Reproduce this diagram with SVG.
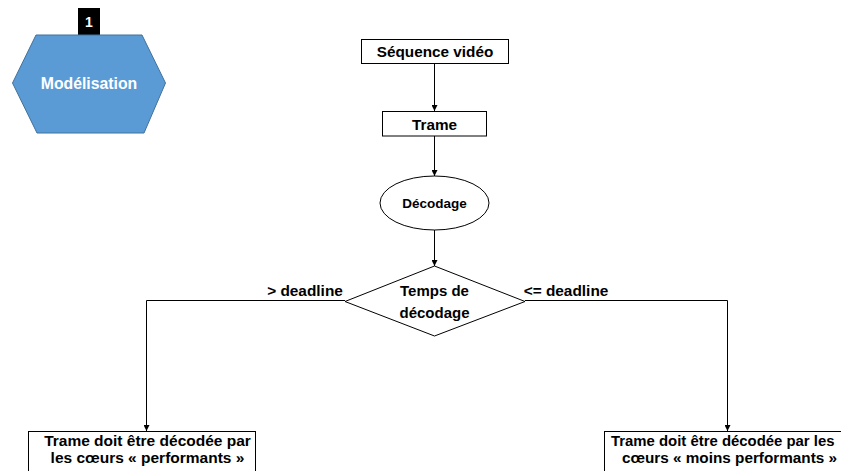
<svg xmlns="http://www.w3.org/2000/svg" width="841" height="471" viewBox="0 0 841 471">
<defs>
<marker id="arr" viewBox="0 0 10 10" refX="10" refY="5" markerWidth="6" markerHeight="6" markerUnits="userSpaceOnUse" orient="auto">
<path d="M0,0 L10,5 L0,10 Z" fill="#000"/>
</marker>
<style>
.t{font-family:"Liberation Sans",Arial,sans-serif;font-weight:bold;fill:#000;text-anchor:middle}
.box{fill:#fff;stroke:#000;stroke-width:1}
.c{fill:none;stroke:#000;stroke-width:1}
</style>
</defs>
<rect width="841" height="471" fill="#fff"/>
<g id="badge">
<rect x="78" y="8" width="22" height="28" fill="#000"/>
<text x="89" y="27" class="t" style="fill:#fff;font-size:14px">1</text>
</g>
<g id="modelisation">
<polygon points="12.5,83 36,35 142,35 165.5,83 144,133 37,133" fill="#5B9BD5" stroke="#41719C" stroke-width="1"/>
<text x="89" y="89" class="t" style="fill:#fff;font-size:15.8px">Modélisation</text>
</g>
<g id="connectors">
<line x1="434.5" y1="63" x2="434.5" y2="111" class="c" marker-end="url(#arr)"/>
<line x1="434.5" y1="136" x2="434.5" y2="176" class="c" marker-end="url(#arr)"/>
<line x1="434.5" y1="230" x2="434.5" y2="266" class="c" marker-end="url(#arr)"/>
<polyline points="345,300.5 146.5,300.5 146.5,431" class="c" marker-end="url(#arr)"/>
<polyline points="525,300.5 727.5,300.5 727.5,431" class="c" marker-end="url(#arr)"/>
<text x="305" y="296" class="t" style="font-size:15.4px">&gt; deadline</text>
<text x="566" y="296" class="t" style="font-size:15.4px">&lt;= deadline</text>
</g>
<g id="sequence">
<rect x="361.5" y="39.5" width="147" height="24" class="box"/>
<text x="435" y="57" class="t" style="font-size:15.3px">Séquence vidéo</text>
</g>
<g id="trame">
<rect x="382.5" y="111.5" width="104" height="24.5" class="box"/>
<text x="434.5" y="130" class="t" style="font-size:15.3px">Trame</text>
</g>
<g id="decodage">
<ellipse cx="434.5" cy="203" rx="54.5" ry="27" class="box"/>
<text x="434.5" y="207.5" class="t" style="font-size:13.5px">Décodage</text>
</g>
<g id="temps">
<polygon points="434.5,266 525,301.5 434.5,336 345,301.5" class="box"/>
<text x="434.5" y="296" class="t" style="font-size:15px">Temps de</text>
<text x="434.5" y="318" class="t" style="font-size:15px">décodage</text>
</g>
<g id="performants">
<rect x="28.5" y="431.5" width="227" height="50" class="box"/>
<text x="147.5" y="446" class="t" style="font-size:15.5px">Trame doit être décodée par</text>
<text x="147.5" y="463" class="t" style="font-size:15.5px">les cœurs « performants »</text>
</g>
<g id="moins">
<rect x="604.5" y="431.5" width="260" height="50" class="box"/>
<text x="611" y="446" class="t" style="font-size:14.9px;text-anchor:start">Trame doit être décodée par les</text>
<text x="622" y="463" class="t" style="font-size:15.3px;text-anchor:start">cœurs « moins performants »</text>
</g>
</svg>
